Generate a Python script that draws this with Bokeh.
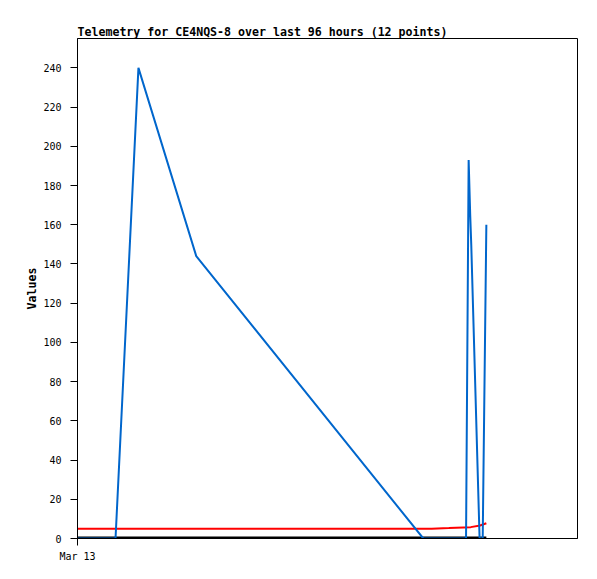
from bokeh.plotting import figure
from bokeh.models import FixedTicker, Range1d
from bokeh.embed import file_html
from bokeh.resources import INLINE

# hours since start of window
blue_x = [0.0, 7.3, 11.7, 22.8, 66.4, 74.6, 75.1, 75.4, 75.6, 77.2, 77.8, 78.5]
blue_y = [0, 0, 240, 144, 0, 0, 193, 165, 150, 0, 0, 160]
red_x = [0.0, 68.0, 71.3, 75.5, 77.3, 78.5]
red_y = [5.0, 5.0, 5.3, 5.8, 6.6, 7.8]
black_x = [0.0, 78.5]
black_y = [0, 0]
y_ticks = list(range(0, 241, 20))
x_tick_labels = {0: "Mar 13"}

FONT = "DejaVu Sans Mono"
p = figure(frame_width=500, frame_height=500, output_backend="svg", toolbar_location=None,
           x_range=Range1d(0, 96), y_range=Range1d(0, 255),
           min_border_left=77, min_border_top=38, min_border_right=11, min_border_bottom=30,
           title="Telemetry for CE4NQS-8 over last 96 hours (12 points)")
p.title.text_font = FONT
p.title.text_font_size = "11.6px"
p.title.text_font_style = "bold"
p.title.text_color = "black"
p.title.offset = 0
p.title.standoff = 0
p.xgrid.visible = False
p.ygrid.visible = False
p.outline_line_color = "black"
p.outline_line_width = 1

p.line(black_x, black_y, line_color="black", line_width=4)
p.line(red_x, red_y, line_color="#ff0000", line_width=2)
p.line(blue_x, blue_y, line_color="#0066cc", line_width=2)

p.yaxis.ticker = FixedTicker(ticks=y_ticks)
p.yaxis.axis_label = "Values"
p.yaxis.axis_label_text_font = FONT
p.yaxis.axis_label_text_font_size = "11.6px"
p.yaxis.axis_label_text_font_style = "bold"
p.yaxis.axis_label_text_color = "black"
p.yaxis.axis_label_standoff = 1
p.yaxis.major_label_text_font = FONT
p.yaxis.major_label_text_font_size = "10px"
p.yaxis.major_label_text_color = "black"
p.yaxis.major_label_standoff = 9
p.yaxis.minor_tick_line_color = None
p.yaxis.major_tick_out = 7
p.yaxis.major_tick_in = 0
p.yaxis.axis_line_color = "black"

p.xaxis.ticker = FixedTicker(ticks=[0])
p.xaxis.major_label_overrides = x_tick_labels
p.xaxis.major_label_text_font = FONT
p.xaxis.major_label_text_font_size = "10px"
p.xaxis.major_label_text_color = "black"
p.xaxis.minor_tick_line_color = None
p.xaxis.major_tick_out = 7
p.xaxis.major_tick_in = 0

open("out.html", "w").write(file_html(p, INLINE))
